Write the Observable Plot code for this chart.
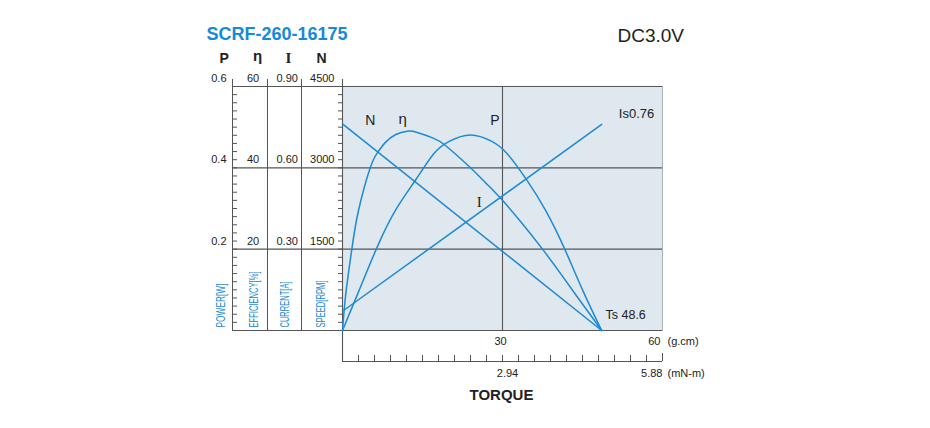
<!DOCTYPE html>
<html>
<head>
<meta charset="utf-8">
<script src="https://cdn.jsdelivr.net/npm/d3@7"></script>
<script src="https://cdn.jsdelivr.net/npm/@observablehq/plot@0.6"></script>
<style>body{margin:0;background:#fff}</style>
</head>
<body>
<div id="chart"></div>
<script>
// ---- data ----
const titleText = "SCRF-260-16175";
const voltageText = "DC3.0V";

// Speed N (rpm) vs torque (g.cm)
const speedTorque = [0, 48.6];
const speedRpm = [3810, 0];
// Current I (A)
const currentTorque = [0, 48.6];
const currentAmp = [0.071, 0.76];
// Output power P (W)
const powerTorque = [0, 3, 6.5, 10, 13.7, 17, 20, 24, 28, 31, 34.6, 38, 41.5, 45, 48.6];
const powerW      = [0, 0.095, 0.205, 0.297, 0.37, 0.433, 0.465, 0.481, 0.465, 0.433, 0.369, 0.297, 0.205, 0.1, 0];
// Efficiency η (%)
const effTorque = [0, 0.62, 1.75, 3, 5.2, 6.6, 8, 10, 12.1, 14, 17, 19.3, 23.6, 27, 30, 33.5, 37.5, 41, 44, 46.5, 48.6];
const effPct    = [0, 9, 20, 29.5, 40, 43.8, 46.2, 48.2, 49, 48.7, 47.3, 45.5, 40.5, 36.1, 32, 26.6, 20, 13.8, 8.3, 3.8, 0];

// Axis ticks and labels
const powerTicks = [0.2, 0.4, 0.6];
const powerLabels = ["0.2", "0.4", "0.6"];
const effLabels = ["20", "40", "60"];
const currentLabels = ["0.30", "0.60", "0.90"];
const speedLabels = ["1500", "3000", "4500"];
const headerLabels = ["P", "η", "I", "N"];
const axisNames = ["POWER[W]", "EFFICIENCY[%]", "CURRENT[A]", "SPEED[RPM]"];
const minorTicks = [0, 0.02, 0.04, 0.06, 0.08, 0.1, 0.12, 0.14, 0.16, 0.18, 0.2, 0.22, 0.24, 0.26, 0.28, 0.3,
  0.32, 0.34, 0.36, 0.38, 0.4, 0.42, 0.44, 0.46, 0.48, 0.5, 0.52, 0.54, 0.56, 0.58, 0.6];
const gcmTicks = [30, 60];
const gcmLabels = ["30", "60"];
const mNmLabels = ["2.94", "5.88"];
const torqueMinor = [3, 6, 9, 12, 15, 18, 21, 24, 27, 30, 33, 36, 39, 42, 45, 48, 51, 54, 57];

const POWER_MAX = 0.6, EFF_MAX = 60, CURRENT_MAX = 0.9, SPEED_MAX = 4500;

// ---- tables (all series share the power scale) ----
const speedData = speedTorque.map((t, i) => ({t, v: speedRpm[i] / SPEED_MAX * POWER_MAX}));
const currentData = currentTorque.map((t, i) => ({t, v: currentAmp[i] / CURRENT_MAX * POWER_MAX}));
const powerData = powerTorque.map((t, i) => ({t, v: powerW[i]}));
const effData = effTorque.map((t, i) => ({t, v: effPct[i] / EFF_MAX * POWER_MAX}));

const blue = "#1c8ad4";
const titleBlue = "#1689d9";
const grid = "#555";
const sans = "'Liberation Sans', Arial, Helvetica, sans-serif";
const serif = "'Liberation Serif', 'DejaVu Serif', serif";
const noText = () => "";
const M = "middle";

const chart = Plot.plot({
  width: 930,
  height: 428,
  marginLeft: 342,
  marginRight: 268,
  marginTop: 86,
  marginBottom: 98,
  x: {domain: [0, 60], axis: null, label: null},
  y: {domain: [0, 0.6], axis: null, label: null},
  style: {fontFamily: sans, fontSize: "11px", color: "#222", background: "#fff"},
  marks: [
    Plot.frame({fill: "#dfe7ef", stroke: "#aab2ba"}),
    // grid and panel lines
    Plot.ruleY([0, ...powerTicks], {stroke: grid, strokeWidth: 1.1, insetLeft: -110}),
    Plot.ruleX([30], {stroke: grid, strokeWidth: 1.1}),
    Plot.ruleX([0], {stroke: grid, dx: -110, insetTop: -7}),
    Plot.ruleX([0], {stroke: grid, dx: -75, insetTop: -7}),
    Plot.ruleX([0], {stroke: grid, dx: -41, insetTop: -7}),
    Plot.ruleX([0], {stroke: grid, strokeWidth: 1.1, insetTop: -7, insetBottom: -31}),
    // minor ticks on speed axis (left of plot) and power axis
    Plot.axisY(minorTicks, {anchor: "left", tickSize: 4, tickPadding: 0, tickFormat: noText, label: null, stroke: grid}),
    Plot.axisY(minorTicks, {anchor: "right", tickSize: 4, tickPadding: 0, dx: -430, tickFormat: noText, label: null, stroke: grid}),
    // left tick labels
    Plot.text(powerTicks, {y: d => d, text: (d, i) => powerLabels[i], frameAnchor: "left", lineAnchor: M, textAnchor: "end", dx: -116, dy: -8}),
    Plot.text(powerTicks, {y: d => d, text: (d, i) => effLabels[i], frameAnchor: "left", lineAnchor: M, textAnchor: "middle", dx: -89.5, dy: -8}),
    Plot.text(powerTicks, {y: d => d, text: (d, i) => currentLabels[i], frameAnchor: "left", lineAnchor: M, textAnchor: "middle", dx: -55.3, dy: -8}),
    Plot.text(powerTicks, {y: d => d, text: (d, i) => speedLabels[i], frameAnchor: "left", lineAnchor: M, textAnchor: "end", dx: -8, dy: -8}),
    // column headers
    Plot.text([headerLabels[0]], {frameAnchor: "top-left", lineAnchor: M, dx: -123, dy: -28, fontWeight: "bold", fontSize: 14}),
    Plot.text([headerLabels[1]], {frameAnchor: "top-left", lineAnchor: M, dx: -89.5, dy: -30, fontWeight: "bold", fontSize: 15}),
    Plot.text([headerLabels[2]], {frameAnchor: "top-left", lineAnchor: M, dx: -57, dy: -28, fontWeight: "bold", fontSize: 15, fontFamily: serif}),
    Plot.text([headerLabels[3]], {frameAnchor: "top-left", lineAnchor: M, dx: -26, dy: -28, fontWeight: "bold", fontSize: 14}),
    // rotated axis names
    Plot.text([axisNames[0]], {frameAnchor: "bottom-left", lineAnchor: M, rotate: -90, textAnchor: "start", dx: -121, dy: -3, fill: blue, fontSize: 12}),
    Plot.text([axisNames[1]], {frameAnchor: "bottom-left", lineAnchor: M, rotate: -90, textAnchor: "start", dx: -88.5, dy: -3, fill: blue, fontSize: 12}),
    Plot.text([axisNames[2]], {frameAnchor: "bottom-left", lineAnchor: M, rotate: -90, textAnchor: "start", dx: -57.5, dy: -3, fill: blue, fontSize: 12}),
    Plot.text([axisNames[3]], {frameAnchor: "bottom-left", lineAnchor: M, rotate: -90, textAnchor: "start", dx: -21, dy: -3, fill: blue, fontSize: 12}),
    // bottom axes
    Plot.text([gcmTicks[0]], {x: d => d, text: () => gcmLabels[0], frameAnchor: "bottom", lineAnchor: M, dy: 11, dx: -2}),
    Plot.text([gcmTicks[1]], {x: d => d, text: () => gcmLabels[1], frameAnchor: "bottom", lineAnchor: M, dy: 11, dx: -2, textAnchor: "end"}),
    Plot.text(["(g.cm)"], {frameAnchor: "bottom-right", lineAnchor: M, dy: 11, dx: 5, textAnchor: "start"}),
    Plot.ruleY([0], {stroke: grid, strokeWidth: 1.1, dy: 31}),
    Plot.axisX(torqueMinor, {anchor: "bottom", tickSize: 6, tickPadding: 0, dy: 25, tickFormat: noText, label: null, stroke: grid}),
    Plot.axisX([60], {anchor: "bottom", tickSize: 8, tickPadding: 0, dy: 23, tickFormat: noText, label: null, stroke: grid}),
    Plot.text([gcmTicks[0]], {x: d => d, text: () => mNmLabels[0], frameAnchor: "bottom", lineAnchor: M, dy: 43, dx: 5}),
    Plot.text([gcmTicks[1]], {x: d => d, text: () => mNmLabels[1], frameAnchor: "bottom", lineAnchor: M, dy: 43, dx: 0, textAnchor: "end"}),
    Plot.text(["(mN-m)"], {frameAnchor: "bottom-right", lineAnchor: M, dy: 43, dx: 5, textAnchor: "start"}),
    Plot.text(["TORQUE"], {frameAnchor: "bottom", lineAnchor: M, dy: 65, dx: -1, fontWeight: "bold", fontSize: 15}),
    // curves
    Plot.line(speedData, {x: "t", y: "v", stroke: blue, strokeWidth: 1.5}),
    Plot.line(currentData, {x: "t", y: "v", stroke: blue, strokeWidth: 1.5}),
    Plot.line(powerData, {x: "t", y: "v", stroke: blue, strokeWidth: 1.5, curve: "natural"}),
    Plot.line(effData, {x: "t", y: "v", stroke: blue, strokeWidth: 1.5, curve: "natural"}),
    // curve labels
    Plot.text(["N"], {frameAnchor: "top-left", lineAnchor: M, dx: 22.7, dy: 34.3, fontSize: 14}),
    Plot.text(["η"], {frameAnchor: "top-left", lineAnchor: M, dx: 56, dy: 33, fontSize: 15}),
    Plot.text(["P"], {frameAnchor: "top-left", lineAnchor: M, dx: 147.7, dy: 34, fontSize: 14}),
    Plot.text(["I"], {frameAnchor: "top-left", lineAnchor: M, dx: 134.3, dy: 116, fontSize: 15, fontFamily: serif}),
    Plot.text(["Is0.76"], {frameAnchor: "top-left", lineAnchor: M, dx: 276.3, dy: 27, fontSize: 13, textAnchor: "start"}),
    Plot.text(["Ts 48.6"], {frameAnchor: "top-left", lineAnchor: M, dx: 263, dy: 228, fontSize: 12.5, textAnchor: "start"}),
    // titles
    Plot.text([titleText], {frameAnchor: "top-left", lineAnchor: M, dx: -136, dy: -52, textAnchor: "start", fill: titleBlue, fontWeight: "bold", fontSize: 18}),
    Plot.text([voltageText], {frameAnchor: "top-left", lineAnchor: M, dx: 275, dy: -51, textAnchor: "start", fontSize: 19, fill: "#222"})
  ]
});

// condensed look for the rotated axis names
const condensed = {"POWER[W]": 44, "EFFICIENCY[%]": 56, "CURRENT[A]": 46, "SPEED[RPM]": 47};
d3.select(chart).selectAll("text").each(function () {
  const len = condensed[this.textContent];
  if (len) {
    this.setAttribute("textLength", len);
    this.setAttribute("lengthAdjust", "spacingAndGlyphs");
  }
});

document.getElementById("chart").appendChild(chart);
</script>
</body>
</html>
